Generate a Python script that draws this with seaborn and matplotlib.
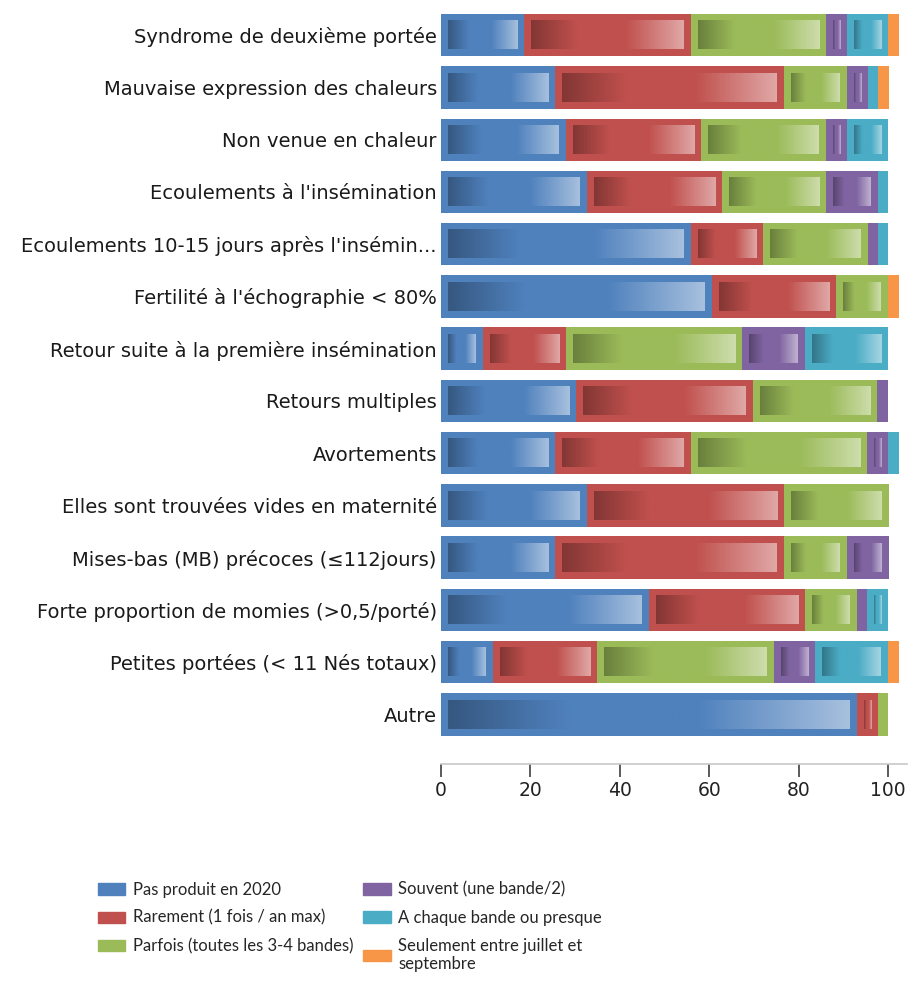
import matplotlib
matplotlib.use("Agg")
import matplotlib.pyplot as plt
import matplotlib.colors as mcolors
import numpy as np
import pandas as pd
import seaborn as sns

sns.set_theme(style="white")
plt.rcParams["font.family"] = ["DejaVu Sans"]

# Categories (top to bottom)
categories = [
    "Syndrome de deuxième portée",
    "Mauvaise expression des chaleurs",
    "Non venue en chaleur",
    "Ecoulements à l'insémination",
    "Ecoulements 10-15 jours après l'insémin...",
    "Fertilité à l'échographie < 80%",
    "Retour suite à la première insémination",
    "Retours multiples",
    "Avortements",
    "Elles sont trouvées vides en maternité",
    "Mises-bas (MB) précoces (≤112jours)",
    "Forte proportion de momies (>0,5/porté)",
    "Petites portées (< 11 Nés totaux)",
    "Autre",
]

# Series values (% of answers)
pas_produit = [18.6, 25.6, 27.9, 32.6, 55.8, 60.5, 9.3, 30.2, 25.6, 32.6, 25.6, 46.5, 11.6, 93.0]
rarement = [37.2, 51.2, 30.2, 30.2, 16.3, 27.9, 18.6, 39.5, 30.2, 44.2, 51.2, 34.9, 23.3, 4.7]
parfois = [30.2, 14.0, 27.9, 23.3, 23.3, 11.6, 39.5, 27.9, 39.5, 23.3, 14.0, 11.6, 39.5, 2.3]
souvent = [4.7, 4.7, 4.7, 11.6, 2.3, 0.0, 14.0, 2.3, 4.7, 0.0, 9.3, 2.3, 9.3, 0.0]
chaque_bande = [9.3, 2.3, 9.3, 2.3, 2.3, 0.0, 18.6, 0.0, 2.3, 0.0, 0.0, 4.7, 16.3, 0.0]
ete = [2.3, 2.3, 0.0, 0.0, 0.0, 2.3, 0.0, 0.0, 0.0, 0.0, 0.0, 0.0, 2.3, 0.0]

series_labels = [
    "Pas produit en 2020",
    "Rarement (1 fois / an max)",
    "Parfois (toutes les 3-4 bandes)",
    "Souvent (une bande/2)",
    "A chaque bande ou presque",
    "Seulement entre juillet et\nseptembre",
]
series_values = [pas_produit, rarement, parfois, souvent, chaque_bande, ete]
colors = ["#4F81BD", "#C0504D", "#9BBB59", "#8064A2", "#4BACC6", "#F79646"]
xticks = [0, 20, 40, 60, 80, 100]

df = pd.DataFrame(dict(zip(series_labels, series_values)), index=categories)
cum = df.cumsum(axis=1)

fig = plt.figure(figsize=(9.12, 9.81), dpi=100)
ax = fig.add_axes([441 / 912, 1 - 764 / 981, 466 / 912, 756 / 981])

# Stacked bars: draw cumulative totals from the longest down
bar_w = 0.81
for lab, col in reversed(list(zip(series_labels, colors))):
    sns.barplot(x=cum[lab].values, y=categories, orient="h", color=col,
                width=bar_w, saturation=1, linewidth=0, ax=ax)

ax.set_xlim(0, 104.2)
ax.set_ylim(13.95, -0.52)

# Excel-like gradient inside each segment
px_x = (ax.get_position().width * 912) / 104.2
px_y = (ax.get_position().height * 981) / 14.47
inset_x = 7 / px_x
inset_y = 7 / px_y
n_layers = len(series_labels)
nc = len(categories)
patches = ax.patches
# patches were added layer by layer, starting with the last series
layers = {}
for k in range(n_layers):
    layers[n_layers - 1 - k] = patches[k * nc:(k + 1) * nc]

for s in range(n_layers):
    base = np.array(mcolors.to_rgb(colors[s]))
    dark = base * 0.68
    light = base + (1 - base) * 0.5
    xs = np.linspace(0, 1, 200)
    img = np.zeros((1, 200, 3))
    for c in range(3):
        img[0, :, c] = np.interp(xs, [0, 0.3, 0.62, 1.0], [dark[c], base[c], base[c], light[c]])
    for i, p in enumerate(layers[s]):
        right = p.get_x() + p.get_width()
        left = layers[s - 1][i].get_x() + layers[s - 1][i].get_width() if s > 0 else p.get_x()
        x0, x1 = left + inset_x, right - inset_x
        if x1 - x0 <= 0.3:
            continue
        y0 = p.get_y() + inset_y
        y1 = p.get_y() + p.get_height() - inset_y
        ax.imshow(img, extent=[x0, x1, y1, y0], aspect="auto",
                  interpolation="bilinear", zorder=3)

ax.set_xlim(0, 104.2)
ax.set_ylim(13.95, -0.52)
ax.set_aspect("auto")

sns.despine(ax=ax, left=True, top=True, right=True)
ax.spines["bottom"].set_color("#C8C8C8")
ax.spines["bottom"].set_linewidth(1.2)
ax.set_xticks(xticks)
ax.tick_params(axis="x", bottom=True, direction="out", length=9, width=1.2,
               color="#404040", labelsize=13.5, labelcolor="#222222", pad=3)
ax.tick_params(axis="y", left=False, length=0, labelsize=14, labelcolor="#1a1a1a", pad=3)
ax.set_xlabel("")
ax.set_ylabel("")

# Legend in figure coordinates, two columns
handles = [plt.Rectangle((0, 0), 1, 1, color=c) for c in colors]
fig.legend(handles, series_labels, loc="upper left", bbox_to_anchor=(86 / 912, 1 - 870 / 981),
           ncol=2, frameon=False, prop={"family": "Lato", "size": 12},
           handlelength=1.65, handleheight=0.65,
           handletextpad=0.45, labelspacing=0.72, columnspacing=0.6, borderpad=0.2)

fig.savefig("out.png", dpi=100)
